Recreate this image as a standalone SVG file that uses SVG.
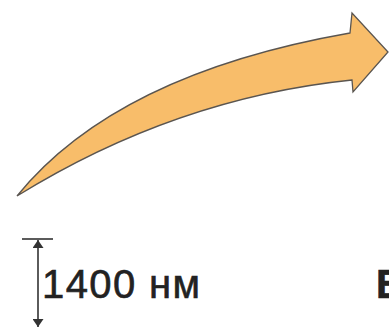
<svg xmlns="http://www.w3.org/2000/svg" width="389" height="328" viewBox="0 0 389 328">
<defs>
<style>
.lbl{font-family:"Liberation Sans",Arial,sans-serif;font-size:40px;fill:#222;stroke:#222;stroke-width:0.6;}
.dim{stroke:#333;stroke-width:1.6;fill:none;}
</style>
<marker id="ah" viewBox="0 0 10 10" refX="10" refY="5" markerWidth="8" markerHeight="11" markerUnits="userSpaceOnUse" orient="auto-start-reverse" preserveAspectRatio="none">
<path d="M0,0 L10,5 L0,10 Z" fill="#333"/>
</marker>
</defs>
<rect width="389" height="328" fill="#fff"/>
<g id="arrow">
<path d="M17,196 Q116,74 350,33 L352,13 L388,52 L353,92 L352,80 Q175.5,98 17,196 Z" fill="#F8BD6A" stroke="#5a5550" stroke-width="1.3" stroke-linejoin="miter"/>
</g>
<g id="connectors">
<line class="dim" x1="22" y1="239" x2="53" y2="239"/>
<line class="dim" x1="38" y1="240" x2="38" y2="327" marker-start="url(#ah)" marker-end="url(#ah)"/>
</g>
<g id="label-1400">
<text class="lbl" x="42" y="298" textLength="158" lengthAdjust="spacing">1400 нм</text>
</g>
<g id="label-b">
<text class="lbl" x="376" y="298" font-weight="bold">B</text>
</g>
</svg>
